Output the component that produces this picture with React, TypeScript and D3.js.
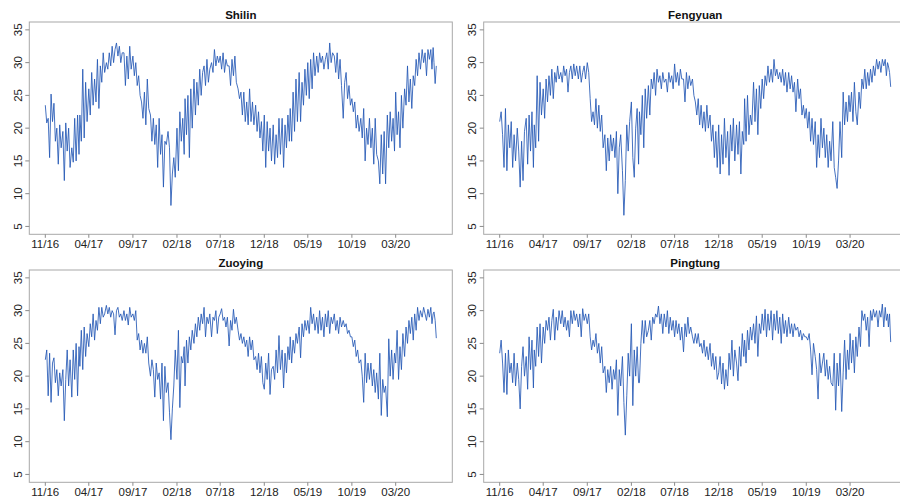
import React from "react";
import * as d3 from "d3";

// ---------- data ----------
const stationNames = ["Shilin", "Fengyuan", "Zuoying", "Pingtung"];
const xTickLabels = ["11/16", "04/17", "09/17", "02/18", "07/18", "12/18", "05/19", "10/19", "03/20"];
const xTickMonths = [[2016, 10], [2017, 3], [2017, 8], [2018, 1], [2018, 6], [2018, 11], [2019, 4], [2019, 9], [2020, 2]];
const yTicks = [5, 10, 15, 20, 25, 30, 35];
const startMonth = [2016, 10];
const monthDays = [1, 6, 11, 16, 21, 26];
const lastMonthDays = [1, 5, 9, 12, 16, 20];

const shilin = [
  23.5, 20.8, 21.5, 15.5, 25.2, 21,
  23.8, 18, 20, 14.5, 20.5, 17,
  19.5, 12, 20.8, 16.5, 20, 14,
  17, 14.8, 21.5, 15, 22, 16,
  22, 18, 29, 18.5, 27, 21,
  26, 22, 28.5, 23.5, 27.5, 24,
  30.5, 23, 29.5, 27, 31.5, 28.5,
  30, 29, 31.5, 29.5, 32.5, 30,
  32, 33, 31, 32.5, 30, 31.5,
  31.5, 26.5, 31, 27.5, 32.5, 29,
  31, 28, 30, 26.5, 28, 25,
  24, 21.5, 25.5, 20.5, 27.5, 23,
  22, 18, 21.5, 17.5, 20.5, 14,
  21.5, 16, 19, 11, 18, 17.5,
  19.5, 17, 8.2, 13, 15.5, 12.5,
  20, 13.5, 22.5, 18, 21.5, 16,
  24.5, 19, 25, 15.5, 26, 20,
  27.5, 22, 27, 23.5, 29, 25,
  28.5, 29.5, 26.5, 30.5, 27, 29,
  30, 28.5, 32, 29.5, 31, 30,
  31, 29, 31.5, 28.5, 30.5, 29.5,
  29.5, 26.5, 30.5, 28, 31, 27,
  26, 24.5, 25.5, 22, 25.5, 21,
  24, 20.5, 26, 21, 24, 20.5,
  23.5, 19.5, 22.5, 18.5, 21, 16.5,
  22, 14, 21, 16.5, 20, 15,
  20.5, 14.5, 19, 15.5, 21.5, 16,
  21.5, 14, 20.5, 17, 22, 18,
  23, 18, 25.5, 19.5, 27.5, 21,
  28.5, 21, 27, 23.5, 29, 25,
  30, 24.5, 30.5, 26, 31.5, 28,
  31, 28.5, 31.5, 30, 31, 29,
  30.5, 31.5, 29, 33, 30, 31.5,
  31, 28.5, 31.5, 27.5, 30.5, 26.5,
  21.5, 27, 28.5, 24.5, 26.5, 23.5,
  24.5, 22.5, 24, 20, 22, 19.5,
  21.5, 18.5, 23, 15, 20, 17.5,
  21.5, 17, 20, 14.5, 21.5, 16,
  15, 11.5, 19, 13, 19.5, 11.5,
  22, 17, 22.5, 18, 21.5, 16.5,
  25.5, 19, 22.5, 17, 25, 20,
  26, 23.5, 29.5, 24, 27.5, 23,
  28, 26.5, 30.5, 28, 31.5, 29,
  32, 30, 31.5, 28, 32, 30.5,
  32, 29, 32.3, 30, 26.8, 29.5,
];

const fengyuan = [
  21, 22.5, 19, 14, 23, 13.5,
  20.5, 17, 21, 14, 19, 15,
  20, 16.5, 11, 18, 12, 19.5,
  21.5, 14.5, 22, 16.5, 22.5, 14,
  20.5, 17, 28, 18, 27, 22,
  26, 21.5, 27.5, 24, 28, 25,
  29, 24.5, 28.5, 27, 29.5, 27.5,
  28.5, 27, 29.5, 28, 29, 25.5,
  28.5, 29.5, 27.5, 29.8, 28, 29.5,
  27.5, 29.5, 27, 28.5, 29.5, 27.5,
  30, 28.5, 24.5, 21, 22.5, 20.5,
  24.5, 20, 23.5, 19.5, 22, 17,
  19, 13.5, 18.5, 15, 19, 16.5,
  18.5, 15.5, 19.5, 10, 17, 19,
  13.5, 6.7, 12, 20.5, 16.5, 21,
  24, 15.5, 12.5, 20, 23, 14.5,
  22.5, 19, 25, 17, 26, 21.5,
  26.5, 22, 27.5, 26, 28.5, 25,
  29, 27, 28, 26, 28.5, 27,
  27.5, 25.5, 28.5, 27, 28, 26,
  29.8, 27, 28.5, 26.5, 29, 27.5,
  27.5, 24, 28.5, 26, 28, 26.5,
  27.5, 25, 24, 22, 24.5, 20.5,
  23.5, 20, 22.5, 19.5, 23.5, 20,
  22, 18, 20.5, 15.5, 19.5, 14,
  20.5, 13, 19, 14.5, 21.5, 15.5,
  19.5, 12.8, 20.5, 16.5, 21.5, 15,
  20.5, 16, 21, 13, 19.5, 17.5,
  24.5, 18, 25, 19, 22, 20.5,
  27, 21, 26, 19, 26.5, 23,
  27.5, 24.5, 28, 26.5, 29.5, 27,
  29, 27, 30.5, 28, 29, 27.5,
  28.5, 27, 29, 26.5, 28.5, 25.5,
  28.5, 26, 28, 25.5, 27, 22.5,
  27.5, 24.5, 26, 22, 23.5, 21.5,
  23, 20, 22.5, 18, 21.5, 17.5,
  21, 14, 19, 15.5, 21.5, 17,
  20, 15.5, 19, 14, 18, 15,
  21, 14, 12.5, 10.8, 15, 21,
  15.5, 25.5, 20.5, 24, 21, 25,
  22.5, 25.5, 21, 27, 22.5, 20.5,
  25.5, 23, 27.5, 26, 29, 26,
  28.5, 26.5, 29, 27, 29.5, 28,
  30.5, 29, 30.2, 28.5, 30.5, 29.5,
  30.5, 28, 30, 29.5, 28.5, 26.3,
];

const zuoying = [
  22.5, 24, 17, 23.5, 16, 22,
  22.8, 19, 21, 17, 20.5, 18.5,
  21, 13.2, 19.5, 24, 18.5, 22.5,
  16.8, 24, 19.5, 25, 17, 24.5,
  21.5, 27, 21, 27.5, 23, 26.5,
  24.5, 28, 26, 29.5, 25.5, 28.5,
  27, 30.5, 28, 30.5, 29, 29.5,
  30.8, 29.5, 30.5, 29, 30, 29.5,
  26.3, 30, 30.5, 29, 29.5, 28.5,
  30, 28.5, 29.5, 27.8, 30.5, 29,
  29.5, 28.5, 30, 25.5, 26.5, 24,
  25.5, 23.5, 25, 23.5, 26, 22,
  20, 22.5, 21, 16.8, 22, 19.5,
  20.5, 16.5, 22, 13.2, 21.5, 17.5,
  19, 14.5, 10.3, 15, 18.5, 24,
  19.5, 27, 15.2, 23, 22, 24.5,
  18.5, 25.5, 22, 26, 24, 27,
  25, 28, 26, 29, 27, 29.5,
  28, 30.5, 26, 29, 28, 29.5,
  26, 29, 28.5, 30, 26.5, 29,
  29.5, 30.3, 28.5, 29, 27.5, 29,
  24.6, 28.5, 27, 30.2, 28, 29,
  27, 25.5, 26.5, 25, 26, 24.5,
  25.5, 23, 26, 24, 25.5, 22.5,
  23, 21, 23.5, 20.5, 23, 19,
  18, 22, 19.5, 23.5, 17.2, 21,
  21.5, 19.5, 24, 20.5, 26.2, 21,
  24, 18.2, 23.5, 20.5, 24.5, 22.5,
  26, 22, 25.5, 23.5, 26.5, 25,
  27.5, 22.8, 28, 26, 28.5, 27,
  28.5, 26.5, 30.5, 28, 29.5, 27,
  29, 26.5, 30, 27, 29, 26,
  29.5, 27.5, 30, 26.5, 29, 28,
  29.5, 27, 28.5, 26.5, 29, 27.5,
  28.5, 27.5, 28, 26.5, 27, 26,
  26, 24.5, 25.5, 23, 24, 22,
  22.5, 20, 16, 23.5, 19, 22,
  19.5, 22, 18.5, 21, 17.5, 20.5,
  16.5, 23.5, 14, 19.5, 17.5, 18.5,
  13.8, 25.7, 20, 24, 19.5, 23.5,
  22, 27, 19.5, 24.5, 21, 26.5,
  23, 27.5, 25, 28.5, 26.5, 29,
  25.5, 29.5, 27, 30.5, 28.5, 30,
  29, 30.5, 29.5, 28.5, 30.2, 29,
  30.5, 28, 29.5, 29.8, 28.5, 25.8,
];

const pingtung = [
  23.5, 25.5, 22, 17.5, 23.5, 17.2,
  24, 20.5, 22, 19, 23.5, 18.5,
  22, 19.5, 15, 21.5, 24.5, 20,
  23, 18, 26, 21, 25.5, 18.2,
  24, 21.5, 27.5, 23, 28, 22,
  27.5, 25, 28.5, 27, 29, 25.5,
  28.5, 30.2, 25.5, 29, 27, 30,
  28, 30, 27.5, 29, 27, 28.5,
  26, 30, 28, 30, 28.5, 29.5,
  27.5, 29.5, 26, 30.3, 28.5, 29.5,
  28, 29.5, 26, 24, 25.5, 24.5,
  26.5, 23.5, 25, 22, 24.5, 20.5,
  21.5, 17.5, 21, 19, 21.5, 18,
  21, 19.5, 22.5, 14, 21, 18.5,
  23, 16, 11, 17, 23.5, 20,
  28, 15.5, 24, 20, 24.5, 19,
  19, 25, 28.5, 25, 28.5, 26,
  27, 28.5, 25.5, 29, 28, 29.5,
  29, 30.7, 28, 29.5, 26.5, 29.5,
  27.5, 30, 26.5, 29, 27, 28.5,
  26, 28.5, 26.5, 28, 25.5, 27.5,
  23.7, 28, 26, 29, 26.5, 27.5,
  26, 25, 26.5, 25, 26.5, 24.5,
  25, 23.5, 25.5, 23, 24.5, 22.5,
  25, 21.5, 23.5, 21, 23, 19.5,
  20.5, 23, 18.8, 22, 18, 21,
  18.5, 23.5, 21, 25.5, 20, 24,
  22, 19.3, 24.5, 21.5, 26.5, 23,
  25.5, 22, 27, 24, 27.5, 25.5,
  28, 25, 29.2, 23, 28, 26.5,
  29.5, 27, 30.2, 26, 29.5, 27,
  30, 25.5, 29.5, 27, 30, 26.5,
  29, 25, 29.5, 26.5, 28.5, 26,
  29, 26.5, 28, 26, 28, 27,
  27.5, 26, 27, 25.5, 26.5, 26,
  26, 25.5, 26.5, 24, 20.2, 25,
  23, 21, 16.5, 23.5, 20.5, 22,
  23.5, 20, 22.5, 19.5, 21.5, 19,
  18.5, 23.5, 14.8, 22, 18.5, 23.5,
  14.6, 20.5, 25.5, 19.5, 24, 21,
  26.5, 22, 25.5, 20.5, 26, 23,
  27.5, 24.5, 30, 28.5, 29.5, 27,
  29, 24.5, 30, 28.5, 30.2, 29,
  30, 27.5, 30, 29, 31, 27.5,
  30.5, 28.5, 29.5, 27.5, 29.5, 25.2,
];

const seriesList = [shilin, fengyuan, zuoying, pingtung];

// ---------- layout ----------
const W = 900;
const H = 499;
const boxW = 423;
const boxH = 212.3;
const pad = 16;
const origins: [number, number][] = [
  [29.3, 22],
  [483.7, 22],
  [29.3, 270],
  [483.7, 270],
];
const FONT = "'Liberation Sans', Arial, Helvetica, sans-serif";
const LINE_COLOR = "#2457b5";

function buildDates(n: number): Date[] {
  const out: Date[] = [];
  const nMonths = Math.ceil(n / 6);
  for (let k = 0; k < nMonths; k++) {
    const days = k === nMonths - 1 ? lastMonthDays : monthDays;
    for (const d of days) out.push(new Date(startMonth[0], startMonth[1] + k, d));
  }
  return out.slice(0, n);
}

function Panel({ title, values, x0, y0 }: { title: string; values: number[]; x0: number; y0: number }) {
  const dates = buildDates(values.length);
  const xs = d3
    .scaleTime()
    .domain([dates[0], dates[dates.length - 1]])
    .range([x0 + pad, x0 + boxW - pad]);
  const ys = d3.scaleLinear().domain([3.8, 36.2]).range([y0 + boxH, y0]);
  const pts: [Date, number][] = values.map((v, i) => [dates[i], v]);
  const line = d3
    .line<[Date, number]>()
    .x((d) => xs(d[0]))
    .y((d) => ys(d[1]));
  const tickDates = xTickMonths.map(([y, m]) => new Date(y, m, 1));
  const yb = y0 + boxH;
  return (
    <g>
      <text
        x={x0 + boxW / 2}
        y={y0 - 2.7}
        textAnchor="middle"
        fontFamily={FONT}
        fontWeight="bold"
        fontSize={11.5}
        fill="#111"
      >
        {title}
      </text>
      <path d={line(pts) || ""} fill="none" stroke={LINE_COLOR} strokeWidth={0.85} strokeLinejoin="round" />
      <rect x={x0} y={y0} width={boxW} height={boxH} fill="none" stroke="#a8a8a8" strokeWidth={1} />
      {tickDates.map((d, i) => (
        <g key={i}>
          <line x1={xs(d)} x2={xs(d)} y1={yb} y2={yb + 3.5} stroke="#8a8a8a" strokeWidth={1} />
          <text
            x={xs(d)}
            y={yb + 13.2}
            textAnchor="middle"
            fontFamily={FONT}
            fontSize={11.5}
            fill="#222"
          >
            {xTickLabels[i]}
          </text>
        </g>
      ))}
      {yTicks.map((v) => (
        <g key={v}>
          <line x1={x0 - 4} x2={x0} y1={ys(v)} y2={ys(v)} stroke="#8a8a8a" strokeWidth={1} />
          <text
            transform={`translate(${x0 - 7.6},${ys(v)}) rotate(-90)`}
            textAnchor="middle"
            fontFamily={FONT}
            fontSize={11.5}
            fill="#222"
          >
            {v}
          </text>
        </g>
      ))}
    </g>
  );
}

export default function App() {
  return (
    <svg
      width={W}
      height={H}
      style={{ position: "absolute", left: 0, top: 0, overflow: "hidden", background: "#fff" }}
    >
      <rect x={0} y={0} width={W} height={H} fill="#fff" />
      {stationNames.map((name, i) => (
        <Panel key={name} title={name} values={seriesList[i]} x0={origins[i][0]} y0={origins[i][1]} />
      ))}
    </svg>
  );
}
